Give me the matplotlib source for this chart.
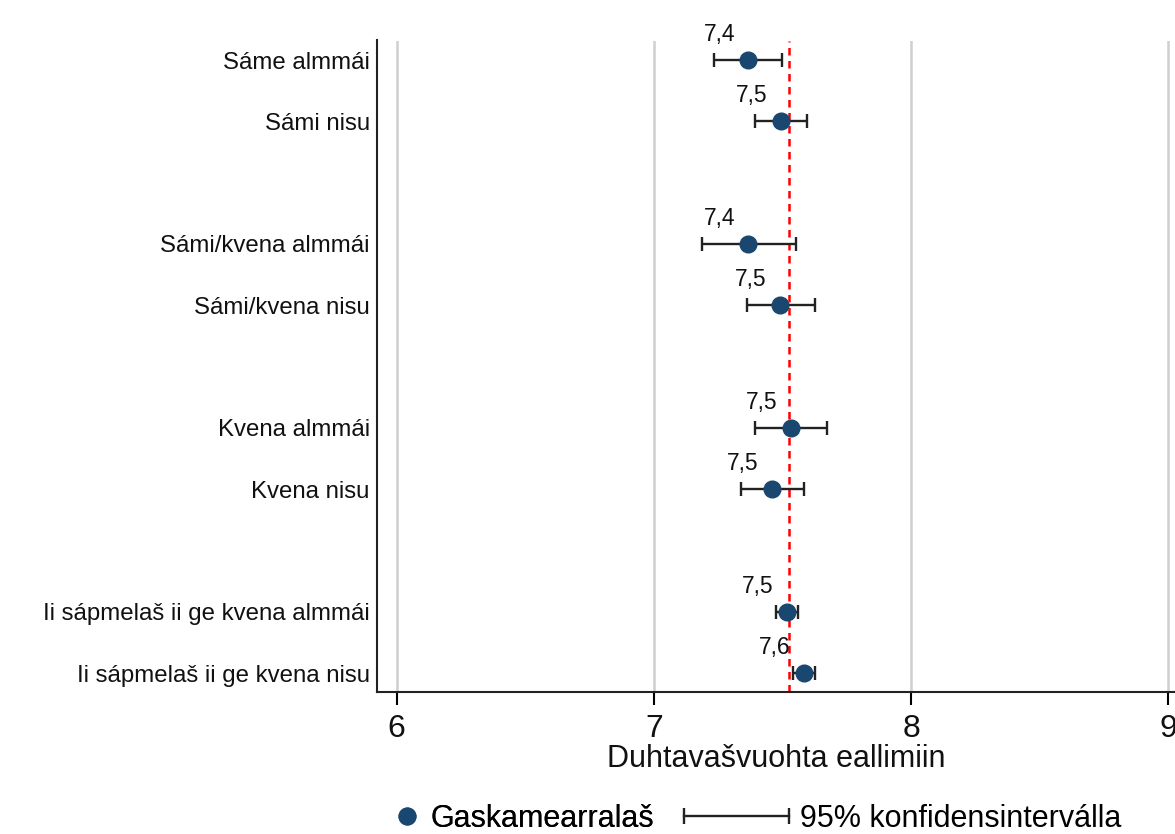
import matplotlib.pyplot as plt
from matplotlib.lines import Line2D
from matplotlib.legend_handler import HandlerLine2D

plt.rcParams['font.family'] = ['Liberation Sans', 'DejaVu Sans']

# groups and values
groups = ['Sáme almmái', 'Sámi nisu',
          'Sámi/kvena almmái', 'Sámi/kvena nisu',
          'Kvena almmái', 'Kvena nisu',
          'Ii sápmelaš ii ge kvena almmái', 'Ii sápmelaš ii ge kvena nisu']
rows = [0, 1, 3, 4, 6, 7, 9, 10]
means = [7.367, 7.494, 7.367, 7.490, 7.533, 7.458, 7.516, 7.584]
ci_low = [7.235, 7.393, 7.187, 7.361, 7.393, 7.337, 7.475, 7.542]
ci_high = [7.498, 7.594, 7.551, 7.626, 7.672, 7.584, 7.561, 7.626]
mean_labels = ['7,4', '7,5', '7,4', '7,5', '7,5', '7,5', '7,5', '7,6']
overall_mean = 7.526
xticks = [6, 7, 8, 9]

navy = '#1a476f'
W, H = 1175, 834

fig = plt.figure(figsize=(11.75, 8.34), dpi=100)
ax_left, ax_top, ax_bot = 377.3, 40.5, 692.3
ax = fig.add_axes([ax_left / W, 1 - ax_bot / H, 1 - ax_left / W, (ax_bot - ax_top) / H])

for g in xticks:
    ax.axvline(g, color='#cfcfcf', lw=1.8, zorder=0)

ax.axvline(overall_mean, color='red', lw=1.8, ls=(0, (3, 2.2)), zorder=1)

err_lo = [m - l for m, l in zip(means, ci_low)]
err_hi = [h - m for m, h in zip(means, ci_high)]
ax.errorbar(means, rows, xerr=[err_lo, err_hi], fmt='none', ecolor='#222222',
            elinewidth=1.7, capsize=5, capthick=1.7, zorder=2)
ax.plot(means, rows, 'o', color=navy, ms=12, zorder=3)

for m, r, t in zip(means, rows, mean_labels):
    ax.annotate(t, (m, r), xytext=(-9.5, 14), textcoords='offset points',
                ha='right', va='baseline', fontsize=16.5, color='#111111',
                annotation_clip=False)

ax.set_xlim(5.9245, 9.026)
ax.set_ylim(10.31, -0.318)
ax.set_xticks(xticks)
ax.set_xticklabels([str(t) for t in xticks])
ax.set_yticks(rows)
ax.set_yticklabels(groups)
ax.tick_params(axis='y', length=0, pad=5.5, labelsize=17.3, labelcolor='#111111')
ax.tick_params(axis='x', length=9, width=1.5, pad=6.5, labelsize=23, labelcolor='#111111')

for s in ['top', 'right']:
    ax.spines[s].set_visible(False)
for s in ['left', 'bottom']:
    ax.spines[s].set_linewidth(1.5)
    ax.spines[s].set_color('#222222')

ax.set_xlabel('Duhtavašvuohta eallimiin', fontsize=22, labelpad=0, color='#111111')

# legend
fs = 22
fpx = fs * 100 / 72
ly = 1 - 819 / H
dot = Line2D([], [], marker='o', color=navy, ls='none', ms=12)
leg1 = fig.legend([dot], ['Gaskamearralaš'], loc='center left',
                  bbox_to_anchor=((407 - fpx / 2) / W, ly), frameon=False,
                  fontsize=fs, handlelength=1.0, handletextpad=(430 - 407 - fpx / 2) / fpx,
                  borderpad=0, borderaxespad=0)
ci_line = Line2D([], [], color='#222222', lw=1.7, marker='|', ms=11, mew=1.7)
hl = 105 / fpx + 0.6
x0 = 684 - 0.3 * fpx
leg2 = fig.legend([ci_line], ['95% konfidensinterválla'], loc='center left',
                  bbox_to_anchor=(x0 / W, ly), frameon=False,
                  fontsize=fs, handlelength=hl, handletextpad=(800 - x0 - hl * fpx) / fpx,
                  borderpad=0, borderaxespad=0,
                  handler_map={ci_line: HandlerLine2D(numpoints=2)})
fig.add_artist(leg1)

fig.savefig('out.png', dpi=100)
